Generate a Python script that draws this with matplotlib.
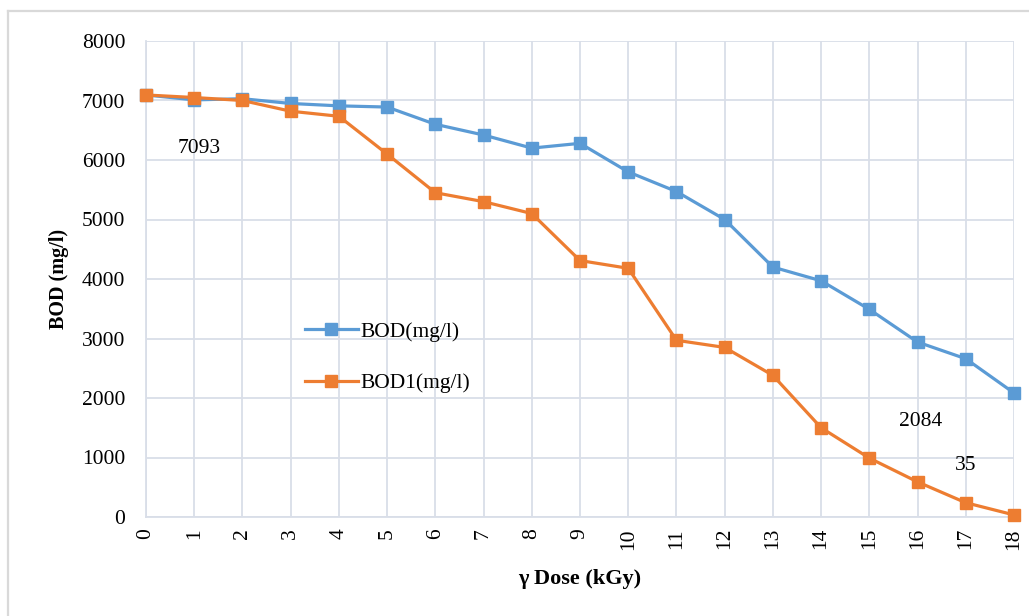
import matplotlib
matplotlib.use("Agg")
import matplotlib.pyplot as plt
from matplotlib.lines import Line2D

dose = list(range(0, 19))
bod = [7093, 7010, 7030, 6950, 6910, 6890, 6600, 6420, 6200, 6280,
       5800, 5470, 5000, 4200, 3970, 3490, 2940, 2660, 2084]
bod1 = [7093, 7050, 7000, 6820, 6735, 6100, 5450, 5300, 5100, 4310,
        4180, 2970, 2850, 2380, 1500, 990, 590, 240, 35]
yticks = [0, 1000, 2000, 3000, 4000, 5000, 6000, 7000, 8000]

plt.rcParams['font.family'] = ['Liberation Serif', 'DejaVu Serif']

W, H = 1029, 616
fig = plt.figure(figsize=(W/100, H/100), dpi=100)
ax = fig.add_axes([146/W, 1-517/H, (1014-146)/W, (517-41)/H])

# outer chart border (only top and left visible)
border = '#D9D9D9'
fig.lines.append(Line2D([8/W, 1.0], [1-11/H, 1-11/H], transform=fig.transFigure, color=border, lw=1.6))
fig.lines.append(Line2D([8/W, 8/W], [0.0, 1-11/H], transform=fig.transFigure, color=border, lw=1.6))

blue = '#5B9BD5'
orange = '#ED7D31'
ax.plot(dose, bod, color=blue, lw=2.3, marker='s', ms=8, label='BOD(mg/l)', zorder=3, clip_on=False)
ax.plot(dose, bod1, color=orange, lw=2.3, marker='s', ms=8, label='BOD1(mg/l)', zorder=3, clip_on=False)

fs = 15.5
ax.set_xlim(0, 18)
ax.set_ylim(0, 8000)
ax.set_xticks(dose)
ax.set_xticklabels([str(d) for d in dose], rotation=90, fontsize=fs)
ax.set_yticks(yticks)
ax.set_yticklabels([str(v) for v in yticks], fontsize=fs)
ax.tick_params(axis='y', length=0, pad=15)
ax.tick_params(axis='x', length=0, pad=8)
ax.grid(True, color='#D9DEE8', lw=1.3)
ax.set_axisbelow(True)
for s in ['top', 'right']:
    ax.spines[s].set_visible(False)
for s in ['left', 'bottom']:
    ax.spines[s].set_color('#D9DEE8')
    ax.spines[s].set_linewidth(1.3)

ax.set_xlabel('γ Dose (kGy)', fontsize=16, fontweight='bold', labelpad=14)
ax.set_ylabel('BOD (mg/l)', fontsize=14.5, fontweight='bold', labelpad=9)

ax.text(1.1, 6200, str(bod[0]), fontsize=fs, ha='center', va='center')
ax.text(16.06, 1610, str(bod[-1]), fontsize=fs, ha='center', va='center')
ax.text(17.0, 860, str(bod1[-1]), fontsize=fs, ha='center', va='center')

ax.legend(loc='center left', bbox_to_anchor=(0.183, 0.335), frameon=False, fontsize=fs,
          labelspacing=1.45, handlelength=2.45, handletextpad=0.15, borderpad=0, borderaxespad=0)

fig.savefig('out.png', dpi=100)
